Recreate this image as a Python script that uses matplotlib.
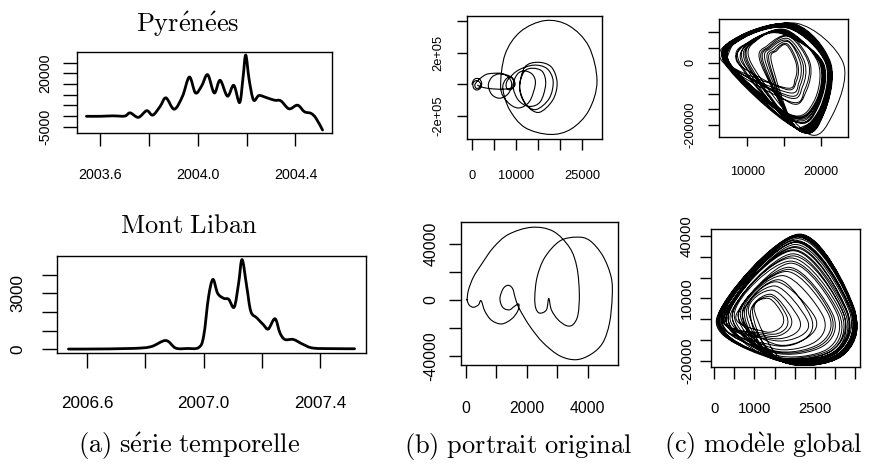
import numpy as np
import matplotlib
matplotlib.use("Agg")
import matplotlib.pyplot as plt
from matplotlib.path import Path
from matplotlib.patches import PathPatch

# ---------------- data ----------------
# Pyrénées time series
pyr_t = [2003.543, 2003.600, 2003.650, 2003.700, 2003.722, 2003.756, 2003.790, 2003.815,
         2003.845, 2003.869, 2003.903, 2003.937, 2003.965, 2003.990, 2004.015, 2004.040,
         2004.067, 2004.091, 2004.121, 2004.147, 2004.171, 2004.185, 2004.196, 2004.210,
         2004.228, 2004.250, 2004.280, 2004.314, 2004.340, 2004.373, 2004.403, 2004.416,
         2004.437, 2004.464, 2004.484, 2004.511]
pyr_v = [-100, -100, 100, 0, 1500, -600, 2500, 450,
         4500, 8500, 3200, 9300, 18200, 10800, 14000, 19300,
         10800, 16700, 9300, 14350, 6300, 18000, 28500, 17000,
         7500, 9600, 8650, 7400, 7100, 3400, 5000, 4600,
         2000, 1250, -1000, -6500]

# Mont Liban time series
ml_t = [2006.536, 2006.600, 2006.750, 2006.818, 2006.870, 2006.904, 2006.944, 2006.983,
        2007.000, 2007.017, 2007.032, 2007.048, 2007.069, 2007.086, 2007.105, 2007.120,
        2007.132, 2007.148, 2007.162, 2007.183, 2007.205, 2007.222, 2007.245, 2007.262,
        2007.279, 2007.308, 2007.342, 2007.376, 2007.450, 2007.518]
ml_v = [20, 20, 50, 140, 475, 70, 50, 100,
        700, 2820, 3740, 3000, 2730, 2680, 2260, 3530,
        4800, 3350, 2030, 1680, 1320, 1090, 1640, 880,
        530, 530, 265, 70, 40, 35]

# Pyrénées original phase portrait (x, dx)
pyrb_x = [0, 300, 900, 1700, 2200, 1900, 1100, 400, 200,
          600, 1300, 1950, 1600, 900, 650,
          1200, 2200, 3300, 4800, 6700,
          8300, 9000, 8200, 6300, 4500, 3700, 4500, 6000,
          7800, 9200, 9770, 9000, 8000, 7730, 8300,
          10500, 14000, 17000, 18400, 17500, 14500, 12000, 10800,
          12000, 15000, 18000, 19300, 18300, 15200, 12300, 10800,
          11800, 13800, 16000, 16700, 15500, 13000, 10500, 9300,
          10300, 12000, 13800, 14350, 13000, 10500, 8000, 6500,
          7500, 11000, 16600, 22000, 26500, 28340, 26500, 22500, 17700, 12000, 8500, 7000,
          7600, 8800, 9600, 9200,
          7500, 5500, 3500, 2000, 1250]
pyrb_y = [0, 25000, 37000, 33000, 8000, -24000, -36000, -25000, 2000,
          20000, 23000, 3000, -22000, -24000, -3000,
          20000, 45000, 64000, 70000, 69000,
          45000, 0, -60000, -88000, -65000, -5000, 45000, 66000,
          60000, 40000, 0, -30000, -30000, 0, 35000,
          90000, 122000, 100000, 20000, -90000, -160000, -120000, -20000,
          110000, 140000, 110000, 10000, -100000, -178000, -130000, -20000,
          80000, 102000, 80000, 0, -110000, -140000, -100000, -10000,
          65000, 85000, 60000, 0, -110000, -150000, -110000, -20000,
          190000, 335000, 405000, 372000, 240000, 20000, -165000, -283000, -318000, -274000, -160000, -30000,
          30000, 45000, 10000, -20000,
          -30000, -30000, -25000, -15000, -5000]

# Mont Liban original phase portrait (x, dx)
mlb_x = [40, 85, 248, 522, 900, 1390, 2153, 2860, 3403, 3640, 3720, 3675,
         3512, 3295, 3023, 2805, 2718, 2642, 2424, 2294,
         2261, 2337, 2588, 3077, 3620, 4056, 4490, 4764, 4797, 4709, 4490, 4111,
         3620, 3077, 2532, 2098, 1772, 1680,
         1609, 1533, 1390, 1227, 1119, 1207, 1423, 1609, 1740,
         1700, 1500, 1175, 848, 630, 500,
         412, 248, 108, 33]
mlb_y = [0, 7000, 16400, 25900, 37600, 47000, 52200, 49400, 37600, 23500, 5000, -10600,
         -17640, -18340, -14100, -7050, 1180, -7050, -9400, -5880,
         2350, 16460, 30560, 42300, 45150, 42800, 31700, 16400, 2350, -16500, -30600, -38800,
         -42800, -40000, -30600, -18800, -7000, -2500,
         2350, 8250, 10600, 8250, 1200, -5170, -7050, -4230, -3000,
         -8000, -13600, -17150, -14600, -8230, -470,
         -3530, -5170, -3530, 470]

# Pyrénées global model: successive orbits
# (left, upper-left, top, right, lower-right, bottom)
pc_lx = [7000, 9500, 7300, 12500, 7100, 6900, 10200, 7600, 13000, 8700, 7100, 7400,
         9800, 7200, 12000, 6800, 10500, 7500, 12800, 7000, 9000, 7300, 7000, 11800,
         9300, 7400, 7100, 10000, 7600, 13300, 7200, 8800, 7000, 7300, 12200, 7400]
pc_ulx = [9000, 10800, 9200, 13300, 8800, 9000, 11200, 9400, 13800, 10200, 9100, 9300,
          11000, 9000, 13000, 8000, 11500, 9300, 13600, 9100, 10500, 9200, 9000, 12800,
          10700, 9300, 9000, 11200, 9400, 14000, 9100, 10300, 9000, 9200, 13100, 9300]
pc_uly = [82000, 72000, 85000, 50000, 78000, 88000, 75000, 80000, 42000, 68000, 84000, 86000,
          70000, 83000, 55000, 70000, 78000, 81000, 47000, 87000, 70000, 84000, 86000, 58000,
          73000, 82000, 85000, 76000, 80000, 40000, 84000, 69000, 87000, 83000, 52000, 85000]
pc_tx = [15800, 15000, 16200, 15500, 15500, 16500, 15200, 15600, 15400, 14600, 16000, 16300,
         15100, 16100, 15700, 16700, 15400, 15700, 15600, 16400, 14800, 16000, 16300, 15800,
         15000, 15900, 16200, 15300, 15600, 15300, 16100, 14700, 16400, 15900, 15600, 16200]
pc_ty = [118000, 98000, 122000, 72000, 116000, 125000, 104000, 112000, 62000, 95000, 120000, 123000,
         100000, 121000, 85000, 128000, 106000, 115000, 68000, 124000, 97000, 119000, 123000, 88000,
         101000, 117000, 122000, 103000, 113000, 58000, 120000, 96000, 125000, 118000, 78000, 121000]
pc_rx = [20900, 20000, 21100, 17500, 20700, 21300, 19800, 20600, 16800, 20200, 21000, 21200,
         20000, 21000, 18300, 23000, 19600, 20800, 17200, 21200, 20300, 21000, 21100, 18500,
         20100, 20900, 21100, 19900, 20700, 16600, 21000, 20200, 21200, 20900, 17800, 21000]
pc_brx = [20000, 19400, 20200, 17200, 19900, 20400, 19200, 19800, 16700, 19500, 20100, 20300,
          19300, 20200, 17800, 21500, 19000, 20000, 17000, 20300, 19600, 20100, 20300, 18000,
          19400, 20000, 20200, 19300, 19900, 16500, 20100, 19500, 20400, 20000, 17500, 20200]
pc_bry = [-155000, -135000, -158000, -70000, -150000, -162000, -128000, -148000, -55000, -140000,
          -156000, -160000, -132000, -157000, -85000, -170000, -125000, -152000, -62000, -161000,
          -142000, -155000, -159000, -90000, -137000, -153000, -158000, -130000, -149000, -50000,
          -156000, -141000, -161000, -154000, -75000, -157000]
pc_bx = [16500, 16000, 16800, 15500, 16200, 17200, 15800, 16400, 15200, 16200, 16900, 17000,
         15900, 16800, 15800, 18000, 15700, 16600, 15400, 17100, 16300, 16700, 17000, 15900,
         16100, 16600, 16900, 15800, 16500, 15100, 16800, 16200, 17100, 16700, 15600, 16900]
pc_by = [-210000, -175000, -215000, -105000, -205000, -220000, -168000, -205000, -85000, -185000,
         -212000, -216000, -172000, -213000, -125000, -225000, -165000, -208000, -95000, -218000,
         -188000, -211000, -217000, -130000, -180000, -209000, -214000, -170000, -206000, -80000,
         -212000, -186000, -219000, -210000, -112000, -213000]

# Mont Liban global model: successive orbits (left, top, right, lower-right, bottom)
ml_lx = [120, 350, 700, 250, 80, 500, 900, 300, 150, 450, 800, 600, 200, 100, 1000, 550, 300,
         120, 700, 400, 60, 850, 250, 600, 180, 350, 750, 130, 450, 950, 220, 100, 650, 300]
ml_ly = [500, 1500, 2000, 800, 200, 2500, 3000, 1000, 500, 2000, 3500, 2500, 1000, 300, 4000, 2200, 1200,
         600, 3000, 1800, 0, 3500, 900, 2400, 700, 1500, 3200, 400, 2000, 3800, 900, 200, 2800, 1200]
ml_tx = [2050, 1950, 1500, 2000, 2100, 1900, 1400, 2000, 2050, 1950, 1550, 1850, 2050, 2100, 1350, 1900, 2000,
         2050, 1700, 1950, 2100, 1450, 2000, 1850, 2050, 1950, 1600, 2080, 1900, 1400, 2020, 2100, 1800, 1980]
ml_ty = [40500, 33000, 16000, 38000, 40800, 28000, 12000, 36000, 39500, 30500, 18000, 25000, 37500, 40200,
         10000, 27000, 35000, 39800, 21000, 31500, 41000, 14000, 37000, 24000, 38800, 33500, 19000, 40000,
         29500, 11000, 37200, 40600, 23000, 34500]
ml_rx = [3450, 3250, 2300, 3400, 3480, 3100, 1900, 3350, 3450, 3200, 2500, 2950, 3400, 3470, 1700, 3050, 3300,
         3440, 2700, 3200, 3480, 2100, 3380, 2900, 3430, 3280, 2400, 3460, 3150, 1800, 3390, 3470, 2850, 3300]
ml_ry = [4000, 3000, 0, 4500, 3500, 2500, 1000, 4000, 5000, 3000, 1000, 2000, 4000, 5500, 2000, 2500, 3500,
         4500, 1500, 3200, 4000, 500, 4200, 2000, 4800, 3600, 1000, 4500, 3000, 1500, 4000, 4800, 1800, 3800]
ml_brx = [3050, 2950, 2150, 3100, 3150, 2850, 1800, 3000, 3100, 2900, 2300, 2700, 3050, 3150, 1650, 2800, 3000,
          3100, 2500, 2950, 3150, 2000, 3050, 2650, 3100, 2980, 2250, 3120, 2900, 1750, 3050, 3140, 2600, 3000]
ml_bry = [-17500, -16000, -8000, -17000, -18000, -15000, -6000, -16500, -17800, -15500, -9000, -13000, -17200,
          -17600, -4000, -14500, -16800, -17700, -11000, -16000, -18000, -7000, -17000, -12500, -17500, -16300,
          -9500, -17800, -15300, -5000, -17100, -17900, -12000, -16600]
ml_bx = [1500, 1450, 1400, 1600, 1700, 1400, 1300, 1550, 1650, 1500, 1500, 1450, 1600, 1750, 1250, 1450, 1550,
         1650, 1450, 1500, 1700, 1350, 1600, 1450, 1650, 1500, 1450, 1700, 1500, 1300, 1600, 1700, 1450, 1550]
ml_by = [-19500, -18500, -10000, -20000, -20600, -17500, -8000, -19000, -20200, -18000, -12000, -16000, -19500,
         -20300, -6000, -17000, -19000, -20000, -14000, -18500, -20500, -9000, -19500, -15500, -20000, -18800,
         -12500, -20300, -17800, -7000, -19600, -20400, -15000, -19000]

# ---------------- drawing helpers ----------------
plt.rcParams['mathtext.fontset'] = 'cm'
plt.rcParams['font.family'] = ['Liberation Sans', 'DejaVu Sans']

W, H = 869, 467
fig = plt.figure(figsize=(W / 100, H / 100), dpi=100)
PT = 0.72  # points per pixel at 100 dpi


def add_axes(x0, x1, y0, y1):
    ax = fig.add_axes([x0 / W, 1 - y1 / H, (x1 - x0) / W, (y1 - y0) / H])
    for s in ax.spines.values():
        s.set_linewidth(1.0)
        s.set_color('black')
    return ax


def smooth_path(xs, ys):
    pts = np.column_stack([xs, ys]).astype(float)
    n = len(pts)
    verts = [pts[0]]
    codes = [Path.MOVETO]
    for i in range(n - 1):
        p0 = pts[i - 1] if i > 0 else pts[i]
        p1, p2 = pts[i], pts[i + 1]
        p3 = pts[i + 2] if i + 2 < n else pts[i + 1]
        verts += [p1 + (p2 - p0) / 6.0, p2 - (p3 - p1) / 6.0, p2]
        codes += [Path.CURVE4] * 3
    return Path(verts, codes)


def draw_curve(ax, xs, ys, lw):
    ax.add_patch(PathPatch(smooth_path(xs, ys), fill=False, lw=lw,
                           edgecolor='black', capstyle='round', joinstyle='round'))


def r_limits(v):
    lo, hi = min(v), max(v)
    pad = 0.04 * (hi - lo)
    return lo - pad, hi + pad


def style(ax, xt, xl, yt, yl, fs, xlen, xpad, ylen, ypad):
    ax.set_xticks(xt)
    ax.set_xticklabels(xl)
    ax.set_yticks(yt)
    ax.set_yticklabels(yl, rotation=90, va='center')
    ax.tick_params(axis='x', length=xlen * PT, pad=xpad * PT, width=1.0, labelsize=fs)
    ax.tick_params(axis='y', length=ylen * PT, pad=ypad * PT, width=1.0, labelsize=fs)


# ---------------- (a) time series ----------------
ax1 = add_axes(77, 332, 52, 133)
draw_curve(ax1, pyr_t, pyr_v, 2.0)
ax1.set_xlim(r_limits(pyr_t))
ax1.set_ylim(r_limits(pyr_v))
style(ax1, [2003.6, 2003.8, 2004.0, 2004.2, 2004.4], ['2003.6', '', '2004.0', '', '2004.4'],
      [-5000, 0, 5000, 10000, 15000, 20000, 25000], ['-5000', '', '', '', '', '20000', ''],
      10.3, 12.7, 22, 14, 11)

ax4 = add_axes(57, 366, 256, 353)
draw_curve(ax4, ml_t, ml_v, 2.0)
ax4.set_xlim(r_limits(ml_t))
ax4.set_ylim(-192, 4992)
style(ax4, [2006.6, 2006.8, 2007.0, 2007.2, 2007.4], ['2006.6', '', '2007.0', '', '2007.4'],
      [0, 1000, 2000, 3000, 4000], ['0', '', '', '3000', ''],
      12.3, 15, 28, 15, 17)

# ---------------- (b) original portraits ----------------
ax2 = add_axes(467, 602, 16, 139)
draw_curve(ax2, pyrb_x, pyrb_y, 0.8)
ax2.set_xlim(r_limits(pyrb_x))
ax2.set_ylim(r_limits(pyrb_y))
style(ax2, [0, 5000, 10000, 15000, 20000, 25000], ['0', '', '10000', '', '', '25000'],
      [-200000, 0, 200000, 400000], ['-2e+05', '', '2e+05', ''],
      9.3, 11, 20, 10, 13)

ax5 = add_axes(461, 618, 222, 365)
draw_curve(ax5, mlb_x, mlb_y, 0.8)
ax5.set_xlim(r_limits(mlb_x))
ax5.set_ylim(r_limits(mlb_y))
style(ax5, [0, 1000, 2000, 3000, 4000], ['0', '', '2000', '', '4000'],
      [-40000, -20000, 0, 20000, 40000], ['-40000', '', '0', '', '40000'],
      11.3, 13, 23, 12, 10.6)

# ---------------- (c) global model portraits ----------------
pc_x, pc_y = [], []
for orbit in zip(pc_lx, pc_ulx, pc_uly, pc_tx, pc_ty, pc_rx, pc_brx, pc_bry, pc_bx, pc_by):
    lx, ulx, uly, tx, ty, rx, brx, bry, bx, by = orbit
    pc_x += [lx, ulx, tx, rx, brx, bx]
    pc_y += [0, uly, ty, 0, bry, by]
ax3 = add_axes(719, 848, 19, 137)
draw_curve(ax3, pc_x, pc_y, 0.7)
ax3.set_xlim(r_limits(pc_x))
ax3.set_ylim(r_limits(pc_y))
style(ax3, [10000, 15000, 20000], ['10000', '', '20000'],
      [-200000, -150000, -100000, -50000, 0, 50000, 100000], ['-200000', '', '', '', '0', '', ''],
      9.1, 9, 19.6, 11, 11.3)

mc_x, mc_y = [], []
for orbit in zip(ml_lx, ml_ly, ml_tx, ml_ty, ml_rx, ml_ry, ml_brx, ml_bry, ml_bx, ml_by):
    mc_x += list(orbit[0::2])
    mc_y += list(orbit[1::2])
ax6 = add_axes(711, 860, 229, 367)
draw_curve(ax6, mc_x, mc_y, 0.7)
ax6.set_xlim(r_limits(mc_x))
ax6.set_ylim(r_limits(mc_y))
style(ax6, [0, 500, 1000, 1500, 2000, 2500, 3000, 3500], ['0', '', '1000', '', '', '2500', '', ''],
      [-20000, -10000, 0, 10000, 20000, 30000, 40000], ['-20000', '', '', '10000', '', '', '40000'],
      10.7, 11.7, 23, 11.4, 5.6)

# ---------------- titles and captions ----------------
fig.text(188 / W, 1 - 31.7 / H, r'$\mathrm{Pyr\acute{e}n\acute{e}es}$', ha='center', va='baseline', fontsize=19)
fig.text(188.5 / W, 1 - 233.3 / H, r'$\mathrm{Mont\ Liban}$', ha='center', va='baseline', fontsize=19)
fig.text(189 / W, 1 - 453 / H, r'$\mathrm{(a)\ s\acute{e}rie\ temporelle}$', ha='center', va='baseline', fontsize=19)
fig.text(518 / W, 1 - 453 / H, r'$\mathrm{(b)\ portrait\ original}$', ha='center', va='baseline', fontsize=19)
fig.text(763.5 / W, 1 - 453 / H, r'$\mathrm{(c)\ mod\grave{e}le\ global}$', ha='center', va='baseline', fontsize=19)

fig.savefig('out.png', dpi=100)
